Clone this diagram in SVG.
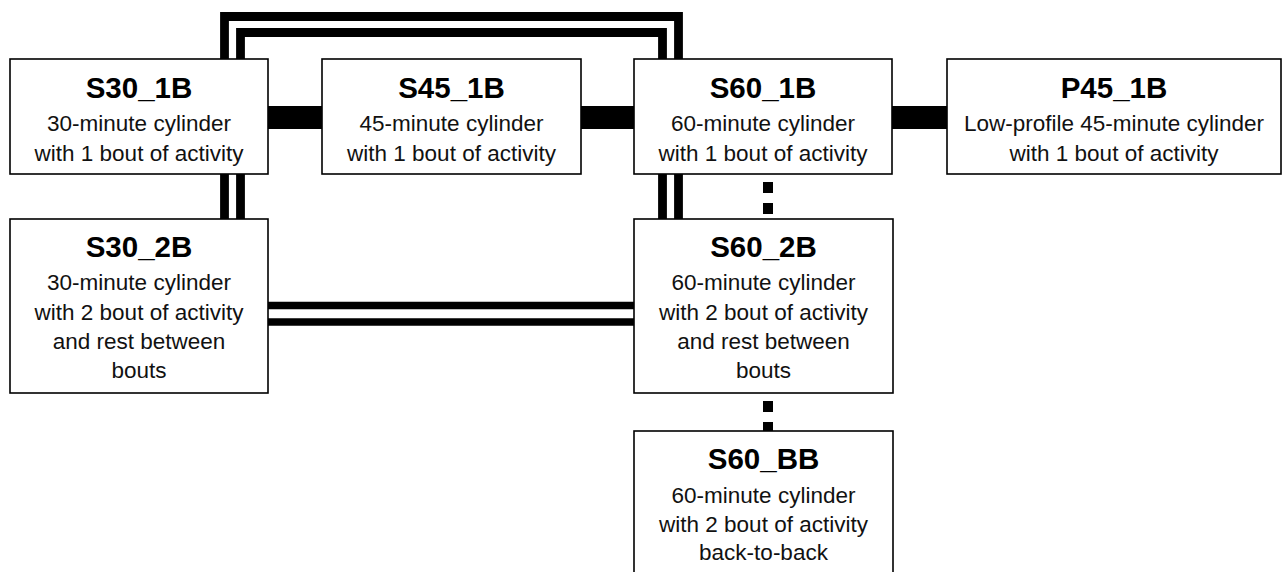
<svg xmlns="http://www.w3.org/2000/svg" width="1283" height="572" viewBox="0 0 1283 572">
  <style>
    .box { fill: #ffffff; stroke: #000000; stroke-width: 1.6; }
    .title { font-family: "Liberation Sans", Arial, sans-serif; font-weight: bold; font-size: 29.5px; fill: #000000; text-anchor: middle; }
    .sub { font-family: "Liberation Sans", Arial, sans-serif; font-size: 22.5px; fill: #111111; text-anchor: middle; }
    .thick { stroke: #000000; stroke-width: 23; fill: none; }
    .dbl { stroke: #000000; stroke-width: 8.8; fill: none; stroke-linejoin: miter; }
    .dblh { stroke: #000000; stroke-width: 7.5; fill: none; }
    .dot { stroke: #000000; stroke-width: 10; fill: none; stroke-dasharray: 11 10; }
  </style>
  <rect width="1283" height="572" fill="#ffffff"/>
  <g id="connectors">
    <path class="dbl" d="M224.5 62 V16.5 H678.5 V62"/>
    <path class="dbl" d="M240.5 62 V32.5 H662.5 V62"/>
    <path class="dbl" d="M224.5 172 V221 M240.5 172 V221"/>
    <path class="dbl" d="M662.5 172 V221 M678.5 172 V221"/>
    <path class="dblh" d="M266 305.5 H636 M266 322 H636"/>
    <path class="thick" d="M266 117.5 H324 M579 117.5 H636 M890 117.5 H949"/>
    <path class="dot" d="M768 182 V214"/>
    <path class="dot" d="M768 401 V432"/>
  </g>
  <g id="S30_1B">
    <rect class="box" x="10" y="59" width="258" height="115"/>
    <text class="title" x="139" y="98">S30_1B</text>
    <text class="sub" x="139" y="131">30-minute cylinder</text>
    <text class="sub" x="139" y="161">with 1 bout of activity</text>
  </g>
  <g id="S45_1B">
    <rect class="box" x="322" y="59" width="259" height="115"/>
    <text class="title" x="451.5" y="98">S45_1B</text>
    <text class="sub" x="451.5" y="131">45-minute cylinder</text>
    <text class="sub" x="451.5" y="161">with 1 bout of activity</text>
  </g>
  <g id="S60_1B">
    <rect class="box" x="634" y="59" width="258" height="115"/>
    <text class="title" x="763" y="98">S60_1B</text>
    <text class="sub" x="763" y="131">60-minute cylinder</text>
    <text class="sub" x="763" y="161">with 1 bout of activity</text>
  </g>
  <g id="P45_1B">
    <rect class="box" x="947" y="59" width="334" height="115"/>
    <text class="title" x="1114" y="98">P45_1B</text>
    <text class="sub" x="1114" y="131">Low-profile 45-minute cylinder</text>
    <text class="sub" x="1114" y="161">with 1 bout of activity</text>
  </g>
  <g id="S30_2B">
    <rect class="box" x="10" y="219" width="258" height="174"/>
    <text class="title" x="139" y="257">S30_2B</text>
    <text class="sub" x="139" y="290">30-minute cylinder</text>
    <text class="sub" x="139" y="320">with 2 bout of activity</text>
    <text class="sub" x="139" y="349">and rest between</text>
    <text class="sub" x="139" y="378">bouts</text>
  </g>
  <g id="S60_2B">
    <rect class="box" x="634" y="219" width="259" height="174"/>
    <text class="title" x="763.5" y="257">S60_2B</text>
    <text class="sub" x="763.5" y="290">60-minute cylinder</text>
    <text class="sub" x="763.5" y="320">with 2 bout of activity</text>
    <text class="sub" x="763.5" y="349">and rest between</text>
    <text class="sub" x="763.5" y="378">bouts</text>
  </g>
  <g id="S60_BB">
    <rect class="box" x="634" y="431" width="259" height="150"/>
    <text class="title" x="763.5" y="469">S60_BB</text>
    <text class="sub" x="763.5" y="503">60-minute cylinder</text>
    <text class="sub" x="763.5" y="532">with 2 bout of activity</text>
    <text class="sub" x="763.5" y="560">back-to-back</text>
  </g>
</svg>
